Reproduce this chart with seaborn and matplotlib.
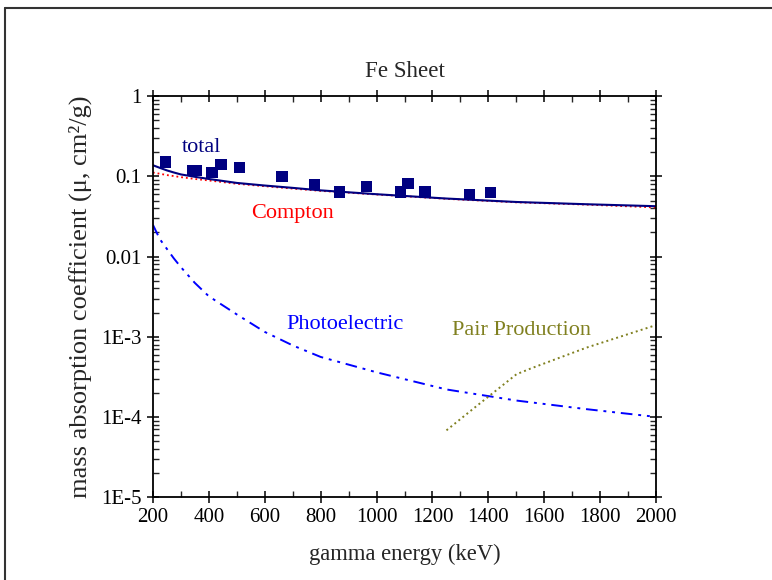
import matplotlib
matplotlib.use("Agg")
import matplotlib.pyplot as plt
import seaborn as sns
from matplotlib.lines import Line2D
from matplotlib.ticker import MultipleLocator, LogLocator, NullFormatter

# measured points (keV, cm2/g)
meas_energy = [244, 344, 356, 411, 444, 511, 662, 779, 867, 964, 1086, 1112, 1173, 1332, 1408]
meas_mu = [0.152, 0.119, 0.119, 0.113, 0.142, 0.130, 0.100, 0.080, 0.064, 0.0755,
           0.064, 0.082, 0.064, 0.060, 0.0636]

# calculated curves
calc_energy = [200, 225, 250, 275, 300, 350, 400, 500, 600, 700, 800, 1000, 1250, 1500, 1750, 2000]
total_mu = [0.138, 0.128, 0.119, 0.112, 0.106, 0.099, 0.093, 0.083, 0.077, 0.072, 0.067,
            0.060, 0.053, 0.048, 0.045, 0.0425]
compton_mu = [0.112, 0.108, 0.104, 0.101, 0.098, 0.093, 0.089, 0.081, 0.0755, 0.0705, 0.066,
              0.0595, 0.0525, 0.0475, 0.0445, 0.041]
photo_mu = [0.025, 0.0165, 0.0125, 0.0095, 0.0074, 0.0047, 0.0032, 0.0019, 0.00115, 0.00078,
            0.00056, 0.00036, 0.00022, 0.00016, 0.000125, 0.0001]

pair_energy = [1250, 1350, 1500, 1550, 1750, 2000]
pair_mu = [6.8e-5, 1.3e-4, 3.4e-4, 4.0e-4, 7.3e-4, 1.4e-3]

y_ticks = [1e-5, 1e-4, 1e-3, 0.01, 0.1, 1]
y_tick_labels = ["1E-5", "1E-4", "1E-3", "0.01", "0.1", "1"]

sns.set_style("white")
plt.rcParams["font.family"] = ["Liberation Serif", "DejaVu Serif"]
plt.rcParams["font.size"] = 15

fig = plt.figure(figsize=(7.72, 5.80), dpi=100)
ax = fig.add_axes([0.198, 0.143, 0.652, 0.691])

sns.lineplot(x=calc_energy, y=compton_mu, ax=ax, color="red", linestyle=":", linewidth=1.3)
sns.lineplot(x=calc_energy, y=total_mu, ax=ax, color="#000080", linewidth=1.5)
sns.lineplot(x=calc_energy, y=photo_mu, ax=ax, color="blue", linewidth=1.4,
             linestyle=(0, (6, 3, 1.5, 3, 1.5, 3)))
sns.lineplot(x=pair_energy, y=pair_mu, ax=ax, color="#808020", linestyle=":", linewidth=1.4)
sns.scatterplot(x=meas_energy, y=meas_mu, ax=ax, marker="s", s=66, color="#000080",
                edgecolor="none", zorder=5)

ax.set_yscale("log")
ax.set_xlim(200, 2000)
ax.set_ylim(1e-5, 1)
ax.set_xticks(range(200, 2001, 200))
ax.xaxis.set_minor_locator(MultipleLocator(100))
ax.set_yticks(y_ticks)
ax.set_yticklabels(y_tick_labels)
ax.yaxis.set_minor_locator(LogLocator(base=10, subs=range(2, 10), numticks=20))
ax.yaxis.set_minor_formatter(NullFormatter())

for s in ax.spines.values():
    s.set_color("black")
    s.set_linewidth(1.3)
ax.tick_params(which="major", direction="inout", length=8, width=1.1,
               left=True, bottom=True, top=True, right=True,
               labelsize=15, pad=4, colors="black")
ax.tick_params(which="minor", direction="in", length=4, width=1.0,
               left=True, bottom=True, top=True, right=True)

ax.set_xlabel("gamma energy (keV)", fontsize=16.3, labelpad=12)
ax.set_ylabel("mass absorption coefficient (μ, cm²/g)", fontsize=19, labelpad=7)
ax.set_title("Fe Sheet", fontsize=16.6, pad=14)

ax.text(303, 0.23, "total", color="#000080", fontsize=16, ha="left", va="center")
ax.text(701, 0.0348, "Compton", color="red", fontsize=16, ha="center", va="center")
ax.text(887, 0.00144, "Photoelectric", color="blue", fontsize=16, ha="center", va="center")
ax.text(1517, 0.00118, "Pair Production", color="#808020", fontsize=16, ha="center", va="center")

# page frame around the chart
fig.add_artist(Line2D([5 / 772, 5 / 772], [0, 1 - 8 / 580], transform=fig.transFigure,
                      color="#333333", linewidth=1.5))
fig.add_artist(Line2D([5 / 772, 1], [1 - 8 / 580, 1 - 8 / 580], transform=fig.transFigure,
                      color="#333333", linewidth=1.5))

fig.savefig("out.png", dpi=100)
